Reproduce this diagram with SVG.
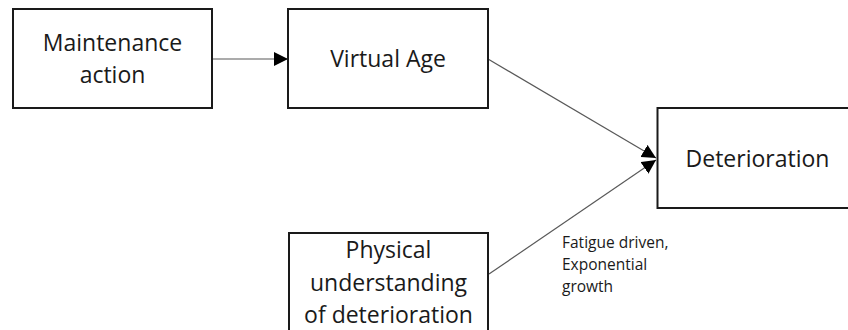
<svg xmlns="http://www.w3.org/2000/svg" width="848" height="330" viewBox="0 0 848 330">
<style>
.box{fill:#fff;stroke:#1a1a1a;stroke-width:2}
.t{font-family:"Open Sans","Liberation Sans",sans-serif;font-size:23px;fill:#1a1a1a;text-anchor:middle}
.lbl{font-family:"Open Sans","Liberation Sans",sans-serif;font-size:15.5px;fill:#1a1a1a}
.c{stroke:#595959;stroke-width:1.2;fill:none;marker-end:url(#ah)}
</style>
<defs>
<marker id="ah" viewBox="0 0 14 14" refX="14" refY="7" markerWidth="14" markerHeight="14" markerUnits="userSpaceOnUse" orient="auto">
<path d="M0,0 L14,7 L0,14 Z" fill="#000"/>
</marker>
</defs>
<rect width="848" height="330" fill="#fff"/>
<g id="connectors">
<line class="c" x1="213" y1="59" x2="288" y2="59"/>
<line class="c" x1="488" y1="59" x2="656" y2="158"/>
<line class="c" x1="489" y1="274" x2="656" y2="160"/>
<g id="edge-label">
<text class="lbl" x="562" y="248">Fatigue driven,</text>
<text class="lbl" x="562" y="270">Exponential</text>
<text class="lbl" x="562" y="292">growth</text>
</g>
</g>
<g id="maintenance">
<rect class="box" x="13" y="9" width="199" height="99"/>
<text class="t" x="112.5" y="51">Maintenance</text>
<text class="t" x="112.5" y="83">action</text>
</g>
<g id="virtual-age">
<rect class="box" x="288" y="9" width="200" height="99"/>
<text class="t" x="388" y="67">Virtual Age</text>
</g>
<g id="deterioration">
<rect class="box" x="657.5" y="108" width="200" height="100"/>
<text class="t" x="757.5" y="167">Deterioration</text>
</g>
<g id="physical">
<rect class="box" x="289" y="233" width="199" height="110"/>
<text class="t" x="388.5" y="258">Physical</text>
<text class="t" x="388.5" y="291">understanding</text>
<text class="t" x="388.5" y="323">of deterioration</text>
</g>
</svg>
